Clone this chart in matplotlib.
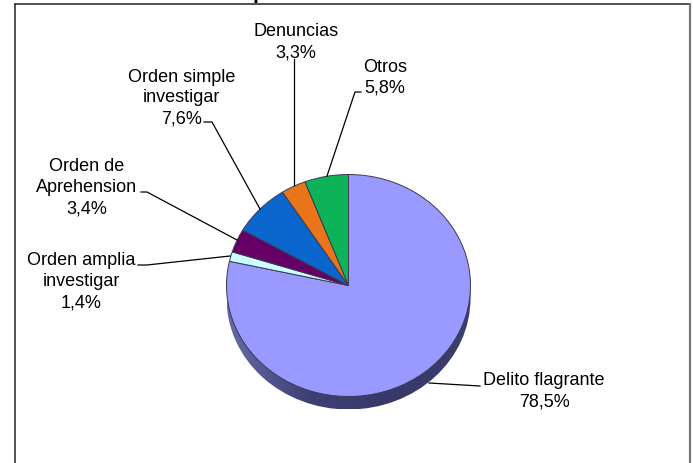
import numpy as np
import matplotlib
matplotlib.use("Agg")
import matplotlib.pyplot as plt
from matplotlib.patches import Circle

plt.rcParams['font.family'] = ['Liberation Sans', 'DejaVu Sans']

categories = ["Delito flagrante", "Orden amplia\ninvestigar", "Orden de\nAprehension",
              "Orden simple\ninvestigar", "Denuncias", "Otros"]
values = [78.5, 1.4, 3.4, 7.6, 3.3, 5.8]
value_labels = ["78,5%", "1,4%", "3,4%", "7,6%", "3,3%", "5,8%"]
colors = ["#9999FF", "#CCFFFF", "#660066", "#0A66CC", "#E8751A", "#0DB358"]

W, H = 693, 464
cx, cy, rx, ry, depth = 348.5, 286.5, 122, 111, 13

# label centre (x, y of first line) and leader line, all in image pixels
label_pos = [(544, 381), (81, 261), (87, 167), (181.5, 77), (296, 32), (385, 67)]
leaders = [
    [(429, 384), (480, 387)],
    [(138, 266), (147, 266), (230, 257)],
    [(141, 193), (147, 193), (237, 241)],
    [(204, 123), (212, 123), (260, 210)],
    [(293.5, 60), (293.5, 186)],
    [(361, 93), (355, 93), (327, 177)],
]

fig = plt.figure(figsize=(W / 100, H / 100), dpi=100)

# pie axes spans the whole figure, unit circle lands on the ellipse in the picture
ax = fig.add_axes([0, 0, 1, 1])
d = depth / ry
ax.imshow(np.linspace(0, 1, 256).reshape(1, -1), aspect='auto', extent=(-1, 1, -1 - d, 1 - d),
          cmap=matplotlib.colors.LinearSegmentedColormap.from_list("side", ["#666AA6", "#3E4075", "#38396A", "#3C3E70"]),
          zorder=1).set_clip_path(Circle((0, -d), 1, transform=ax.transData))
ax.pie(values, colors=colors, startangle=90, counterclock=False, radius=1,
       wedgeprops={'edgecolor': '#3A3A50', 'linewidth': 0.7, 'zorder': 2})
ax.set_aspect('auto')
ax.set_xlim(-cx / rx, (W - cx) / rx)
ax.set_ylim((cy - H) / ry, cy / ry)
ax.axis('off')

# overlay in pixel coordinates for frame, leaders and labels
ov = fig.add_axes([0, 0, 1, 1], facecolor='none')
ov.set_xlim(0, W)
ov.set_ylim(H, 0)
ov.axis('off')

ov.plot([14.5, 14.5], [4.5, H], color='#222222', lw=1.1, solid_capstyle='butt')
ov.plot([14, 689.5], [4.5, 4.5], color='#222222', lw=1.1, solid_capstyle='butt')
ov.plot([689.5, 689.5], [4, H], color='#777777', lw=1.6, solid_capstyle='butt')

for pts in leaders:
    xs, ys = zip(*pts)
    ov.plot(xs, ys, color='black', lw=0.9)

for name, val, (x, y) in zip(categories, value_labels, label_pos):
    for i, line in enumerate(name.split("\n") + [val]):
        ov.text(x, y + i * 21, line, fontsize=13, ha='center', va='center', color='black')

# title is cut off at the top of the picture, only the tail of a p shows
fig.text(259 / W, 1 + 1 / H, "p", fontsize=15, fontweight='bold', ha='center', va='baseline')

fig.savefig("out.png", dpi=100)
